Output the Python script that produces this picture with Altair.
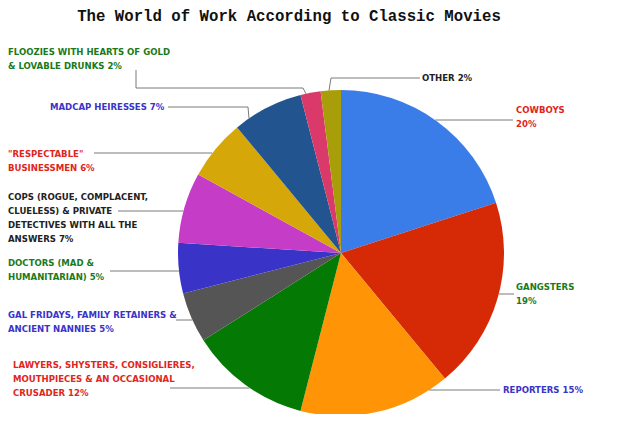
import math
import altair as alt
import pandas as pd

# ---- data ----
categories = [
    "COWBOYS", "GANGSTERS", "REPORTERS",
    "LAWYERS, SHYSTERS, CONSIGLIERES, MOUTHPIECES & AN OCCASIONAL CRUSADER",
    "GAL FRIDAYS, FAMILY RETAINERS & ANCIENT NANNIES",
    "DOCTORS (MAD & HUMANITARIAN)",
    "COPS (ROGUE, COMPLACENT, CLUELESS) & PRIVATE DETECTIVES WITH ALL THE ANSWERS",
    "\"RESPECTABLE\" BUSINESSMEN",
    "MADCAP HEIRESSES",
    "FLOOZIES WITH HEARTS OF GOLD & LOVABLE DRUNKS",
    "OTHER",
]
values = [20, 19, 15, 12, 5, 5, 7, 6, 7, 2, 2]
label_lines = [
    "COWBOYS\n20%",
    "GANGSTERS\n19%",
    "REPORTERS 15%",
    "LAWYERS, SHYSTERS, CONSIGLIERES,\nMOUTHPIECES & AN OCCASIONAL\nCRUSADER 12%",
    "GAL FRIDAYS, FAMILY RETAINERS &\nANCIENT NANNIES 5%",
    "DOCTORS (MAD &\nHUMANITARIAN) 5%",
    "COPS (ROGUE, COMPLACENT,\nCLUELESS) & PRIVATE\nDETECTIVES WITH ALL THE\nANSWERS 7%",
    "\"RESPECTABLE\"\nBUSINESSMEN 6%",
    "MADCAP HEIRESSES 7%",
    "FLOOZIES WITH HEARTS OF GOLD\n& LOVABLE DRUNKS 2%",
    "OTHER 2%",
]
title_text = "The World of Work According to Classic Movies"

# ---- styles / layout ----
slice_colors = ["#3b7de8", "#d62a06", "#ff9406", "#047a04", "#555555", "#3a33c8",
                "#c53cc6", "#d6a708", "#22558f", "#da3a6a", "#a89e0a"]
RED, GREEN, BLUE, DARK = "#e0261c", "#1a7a1a", "#3a33c8", "#222222"
label_colors = [RED, GREEN, BLUE, RED, BLUE, GREEN, DARK, RED, BLUE, GREEN, DARK]
# label first-line centre (page px)
label_x = [516, 516, 503, 13, 8, 8, 8, 8, 50, 8, 422]
label_y = [110, 287, 390, 365, 315, 263, 197, 154, 107, 52, 78]

OFF = 8  # page margin
cx, cy, R = 341, 253, 163


def edge_y(y, side):
    return (cx + side * math.sqrt(R * R - (y - cy) ** 2), y)


def edge_x(x):
    return (x, cy - math.sqrt(R * R - (x - cx) ** 2))


leaders = [
    [edge_y(120, 1), (513, 120)],
    [edge_y(294, 1), (514, 294)],
    [edge_y(390, 1), (500, 390)],
    [edge_y(388, -1), (170, 388)],
    [edge_y(320, -1), (176, 320)],
    [edge_y(271, -1), (110, 271)],
    [edge_y(211, -1), (118, 211)],
    [edge_y(153, -1), (94, 153)],
    [edge_x(249), (248, 107), (168, 107)],
    [edge_x(306), (303, 88), (136, 88), (136, 70)],
    [edge_x(329), (331, 78), (420, 78)],
]

pie_df = pd.DataFrame({"cat": categories, "value": values,
                       "idx": list(range(len(values))), "color": slice_colors})

lab_df = pd.DataFrame({"text": label_lines, "color": label_colors,
                       "x": [v - OFF for v in label_x],
                       "y": [v - OFF - 5 for v in label_y]})

rows = []
for i, pts in enumerate(leaders):
    for j, (px, py) in enumerate(pts):
        rows.append({"lid": i, "ord": j, "x": px - OFF, "y": py - OFF})
lead_df = pd.DataFrame(rows)

title_df = pd.DataFrame({"t": [title_text]})

pie = alt.Chart(pie_df).mark_arc(outerRadius=R).encode(
    theta=alt.Theta("value:Q", stack=True),
    order=alt.Order("idx:Q"),
    color=alt.Color("color:N", scale=None),
    x=alt.value(cx - OFF),
    y=alt.value(cy - OFF),
)

lines = alt.Chart(lead_df).mark_line(color="#7a7a7a", strokeWidth=1).encode(
    x=alt.X("x:Q", scale=None, axis=None),
    y=alt.Y("y:Q", scale=None, axis=None),
    detail="lid:N",
    order="ord:Q",
)

labels = alt.Chart(lab_df).mark_text(
    align="left", baseline="top", lineBreak="\n", lineHeight=14,
    font="DejaVu Sans Condensed, DejaVu Sans, sans-serif",
    fontWeight="bold", fontSize=9.5,
).encode(
    x=alt.X("x:Q", scale=None, axis=None),
    y=alt.Y("y:Q", scale=None, axis=None),
    text="text:N",
    color=alt.Color("color:N", scale=None),
)

title = alt.Chart(title_df).mark_text(
    font="Liberation Mono", fontWeight="bold", fontSize=15.7, color="#111111",
    align="center", baseline="middle",
).encode(x=alt.value(289 - OFF), y=alt.value(16 - OFF), text="t:N")

chart = alt.layer(pie, lines, labels, title).properties(
    width=640 - 2 * OFF, height=422 - 2 * OFF,
    autosize=alt.AutoSizeParams(type="none"), padding=0,
    background="white",
).configure_view(stroke=None)

chart.save("out.html", embed_options={"renderer": "svg", "actions": False})
